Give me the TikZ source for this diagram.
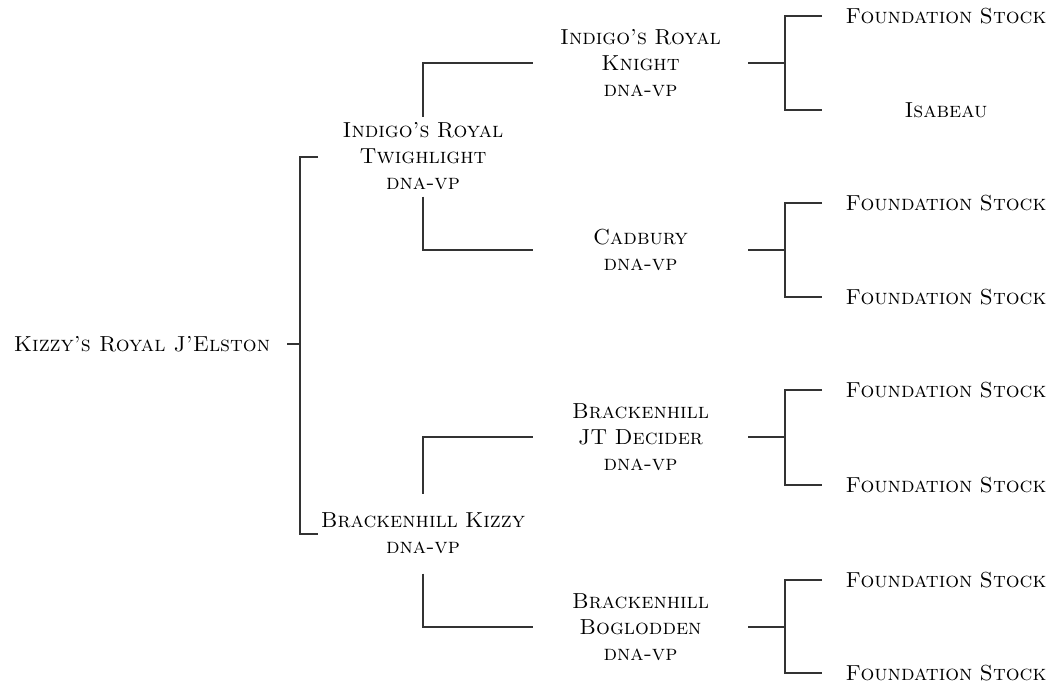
\documentclass[tikz,border=0pt]{standalone}
\usetikzlibrary{positioning}

\begin{document}
\begin{tikzpicture}[x=0.75pt, y=-0.75pt, line width=1.5pt, draw=black!80]
        \tikzset{
            every node/.style={font=\fontsize{16.3}{19.5}\selectfont\scshape, inner sep=0pt, align=center}, % small caps for all names
            dog/.style={text width=156pt, minimum height=58.5pt}, % parents: fixed box, lines start at its top and bottom
            grand/.style={text width=159.75pt}, % grandparents: fixed width, so every line ends at the same x
            stock/.style={text width=184.5pt}, % great grandparents
            }
        \useasboundingbox (0,0) rectangle (1055,686);

        % nodes
        \node (kizzy) at (142,344) {Kizzy's Royal J'Elston};
        \node[dog, anchor=west] (twighlight) at (318,156.5) {Indigo's Royal\\Twighlight\\dna-vp};
        \node[dog, anchor=west] (bkizzy) at (318,533.5) {Brackenhill Kizzy\\dna-vp};
        \node[grand, anchor=west] (knight) at (533,63) {Indigo's Royal\\Knight\\dna-vp};
        \node[grand, anchor=west] (cadbury) at (533,250) {Cadbury\\dna-vp};
        \node[grand, anchor=west] (decider) at (533,437) {Brackenhill\\JT Decider\\dna-vp};
        \node[grand, anchor=west] (boglodden) at (533,627) {Brackenhill\\Boglodden\\dna-vp};
        \node[stock, anchor=west] (knight_sire) at (822,16) {Foundation Stock};
        \node[stock, anchor=west] (knight_dam) at (822,110) {Isabeau};
        \node[stock, anchor=west] (cadbury_sire) at (822,203) {Foundation Stock};
        \node[stock, anchor=west] (cadbury_dam) at (822,297) {Foundation Stock};
        \node[stock, anchor=west] (decider_sire) at (822,390) {Foundation Stock};
        \node[stock, anchor=west] (decider_dam) at (822,485) {Foundation Stock};
        \node[stock, anchor=west] (boglodden_sire) at (822,580) {Foundation Stock};
        \node[stock, anchor=west] (boglodden_dam) at (822,673) {Foundation Stock};

        % forks
        \coordinate (kizzy_fork) at (300,344);
        \coordinate (knight_fork) at (785,63);
        \coordinate (cadbury_fork) at (785,250);
        \coordinate (decider_fork) at (785,437);
        \coordinate (boglodden_fork) at (785,627);

        % kizzy paths
        \draw ([xshift=12pt]kizzy.east) -- (kizzy_fork);
        \draw (twighlight.west) -| (kizzy_fork) |- (bkizzy.west);

        % parents paths
        \draw (twighlight.north) |- (knight.west);
        \draw (twighlight.south) |- (cadbury.west);
        \draw (bkizzy.north) |- (decider.west);
        \draw (bkizzy.south) |- (boglodden.west);

        % grandparents paths
        \draw (knight.east) -- (knight_fork);
        \draw (knight_sire.west) -| (knight_fork) |- (knight_dam.west);
        \draw (cadbury.east) -- (cadbury_fork);
        \draw (cadbury_sire.west) -| (cadbury_fork) |- (cadbury_dam.west);
        \draw (decider.east) -- (decider_fork);
        \draw (decider_sire.west) -| (decider_fork) |- (decider_dam.west);
        \draw (boglodden.east) -- (boglodden_fork);
        \draw (boglodden_sire.west) -| (boglodden_fork) |- (boglodden_dam.west);
    \end{tikzpicture}
\end{document}
